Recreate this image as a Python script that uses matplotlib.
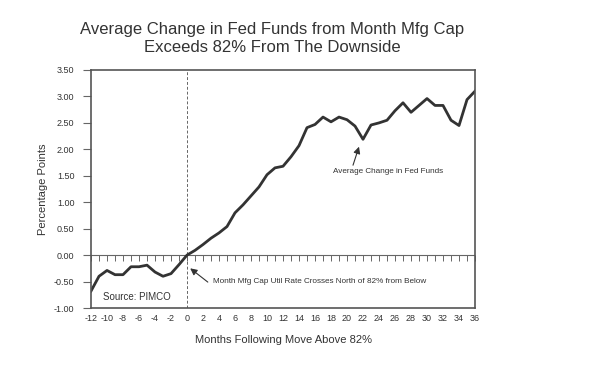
import numpy as np
import matplotlib
matplotlib.use('Agg')
import matplotlib.pyplot as plt

plt.rcParams['font.family'] = ['Liberation Sans', 'DejaVu Sans']

months = np.arange(-12, 37)
fed_change = [-0.68, -0.40, -0.29, -0.37, -0.37, -0.22, -0.22, -0.19, -0.32, -0.40,
              -0.35, -0.18, 0.00, 0.09, 0.20, 0.32, 0.42, 0.54, 0.80, 0.95,
              1.12, 1.29, 1.52, 1.65, 1.68, 1.86, 2.07, 2.41, 2.47, 2.61,
              2.52, 2.61, 2.56, 2.44, 2.19, 2.46, 2.50, 2.55, 2.73, 2.88,
              2.70, 2.83, 2.96, 2.83, 2.83, 2.55, 2.45, 2.94, 3.10]
xticks = np.arange(-12, 37, 2)
yticks = np.arange(-1.0, 3.51, 0.5)

txt = '#333333'
fig = plt.figure(figsize=(5.96, 3.69), dpi=100)
ax = fig.add_axes([0.1527, 0.1653, 0.6443, 0.645])

ax.axvline(0, color='#666666', lw=0.7, ls=(0, (3, 2)))
ax.axhline(0, color='#666666', lw=0.8)
ax.plot(months, np.zeros(len(months)), ls='none', marker=3, ms=4, mew=0.7, color='#666666')
ax.plot(months, fed_change, color='#333333', lw=2.0, solid_joinstyle='round')

ax.set_xlim(-12, 36)
ax.set_ylim(-1.0, 3.5)
ax.set_xticks(xticks)
ax.set_xticklabels([str(v) for v in xticks], fontsize=6.5, color=txt)
ax.set_yticks(yticks)
ax.set_yticklabels(['%.2f' % v for v in yticks], fontsize=6.5, color=txt)
ax.tick_params(axis='x', length=0, pad=4)
ax.tick_params(axis='y', length=6, width=0.8, color='#666666', pad=6)
for s in ax.spines.values():
    s.set_color('#555555')
    s.set_linewidth(1.2)

ax.set_xlabel('Months Following Move Above 82%', fontsize=8, color=txt, labelpad=9)
ax.set_ylabel('Percentage Points', fontsize=8, color=txt, labelpad=4)
fig.text(0.457, 0.85, 'Average Change in Fed Funds from Month Mfg Cap\nExceeds 82% From The Downside',
         ha='center', va='bottom', fontsize=12, color=txt, linespacing=1.25)

arrow = dict(arrowstyle='-|>', color='#333333', lw=0.8, shrinkA=0, shrinkB=0, mutation_scale=10)
ax.annotate('', xy=(21.5, 2.05), xytext=(20.75, 1.70), arrowprops=arrow)
ax.text(18.25, 1.58, 'Average Change in Fed Funds', fontsize=5.9, color=txt, ha='left', va='center')
ax.annotate('', xy=(0.4, -0.25), xytext=(2.6, -0.51), arrowprops=arrow)
ax.text(3.25, -0.49, 'Month Mfg Cap Util Rate Crosses North of 82% from Below',
        fontsize=5.9, color=txt, ha='left', va='center')
ax.text(-10.5, -0.80, 'Source: PIMCO', fontsize=7, color=txt, ha='left', va='center')

fig.savefig('out.png', dpi=100)
